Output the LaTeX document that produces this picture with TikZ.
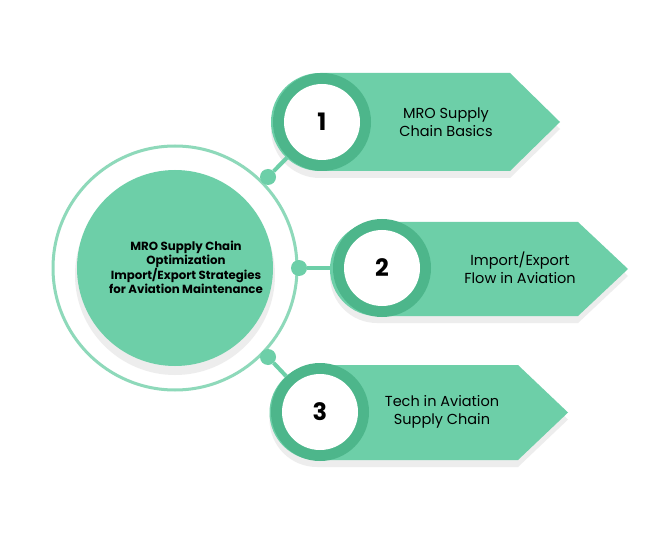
\documentclass[tikz,border=0pt]{standalone}
\usepackage{fontspec}
\setmainfont{Poppins}
\definecolor{mint}{HTML}{6DCFA8}
\definecolor{deepmint}{HTML}{4DB68B}
\definecolor{ringmint}{HTML}{8ED9BA}
\tikzset{
  banner/.style={fill=mint},
  numring/.style={circle,fill=deepmint,minimum size=98pt,inner sep=0pt},
  numface/.style={circle,fill=white,minimum size=76pt,inner sep=0pt,font=\fontsize{24}{24}\selectfont\bfseries},
  dot/.style={circle,fill=mint,minimum size=16pt,inner sep=0pt},
  label/.style={align=center,font=\fontsize{14.5}{18}\selectfont},
  link/.style={mint,line width=4pt}
}
\newcommand{\bannerpath}[5]{% style, left x, top y, bottom y, tip x
  \fill[#1] ({#2+47},#3) -- ({#5-50},#3) -- (#5,{(#3+#4)/2}) -- ({#5-50},#4)
    -- ({#2+47},#4) arc (90:270:{(#4-#3)/2}) -- cycle;}
\begin{document}
\begin{tikzpicture}[x=1pt,y=-1pt]
    \useasboundingbox[fill=white] (0,0) rectangle (660,534);

    % shadows
    \fill[black!7] (175,275) circle (100);
    \begin{scope}[shift={(0,7)}]
      \bannerpath{black!7}{273}{73}{171}{560}
      \bannerpath{black!7}{330}{222}{316}{628}
      \bannerpath{black!7}{270}{365}{460}{568}
    \end{scope}

    % centre
    \draw[ringmint,line width=3pt] (175,268) circle (122);
    \fill[mint] (175,268) circle (98);
    \node[label,font=\fontsize{11.8}{14}\selectfont\bfseries] (hub) at (186,267)
      {MRO Supply Chain\\Optimization\\Import/Export Strategies\\for Aviation Maintenance};

    % banners
    \bannerpath{banner}{273}{73}{171}{560}
    \bannerpath{banner}{330}{222}{316}{628}
    \bannerpath{banner}{270}{365}{460}{568}

    \node[dot] (d1) at (268,177) {};
    \node[dot] (d2) at (299,268) {};
    \node[dot] (d3) at (268,357) {};

    \node[numring] (r1) at (322,122) {};
    \node[numring] (r2) at (382,268) {};
    \node[numring] (r3) at (320,412) {};

    \draw[link] (d1) -- (r1);
    \draw[link] (d2) -- (r2);
    \draw[link] (d3) -- (r3);

    \node[numface] (n1) at (r1) {1};
    \node[numface] (n2) at (r2) {2};
    \node[numface] (n3) at (r3) {3};

    \node[label] (t1) at (446,122) {MRO Supply\\Chain Basics};
    \node[label] (t2) at (520,268) {Import/Export\\Flow in Aviation};
    \node[label] (t3) at (442,412) {Tech in Aviation\\Supply Chain};
\end{tikzpicture}
\end{document}
